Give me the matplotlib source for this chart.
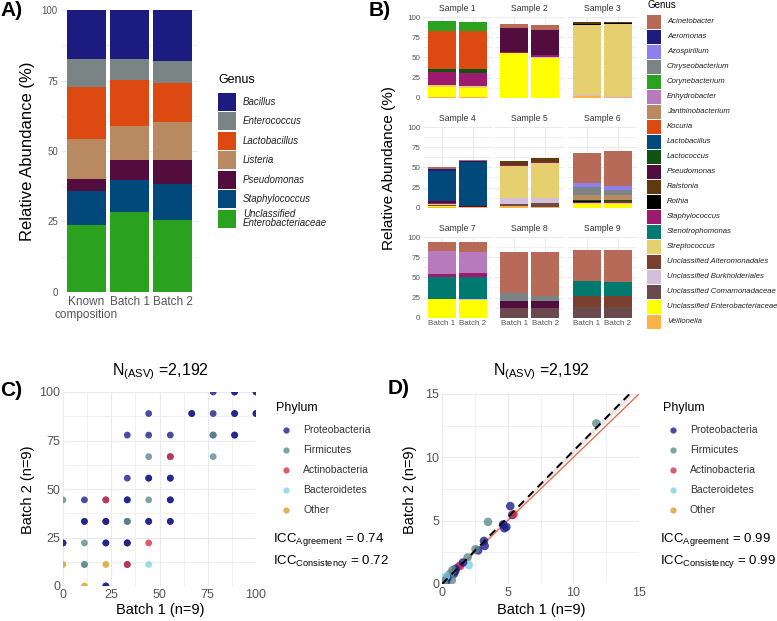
"""
Mock community and sample composition across sequencing batches.
Four panels: genus stacks (A, B) and prevalence / abundance agreement (C, D).
"""

import numpy as np
import matplotlib.pyplot as plt
from matplotlib.patches import Rectangle
from matplotlib.ticker import MultipleLocator

plt.rcParams['font.family'] = ['Liberation Sans', 'DejaVu Sans']
plt.rcParams['mathtext.default'] = 'regular'

W, H = 777, 621
GRID = "#ece9ee"
TICK = "#555555"

# ---------------- Panel A: mock community ----------------
a_groups = ["Known\ncomposition", "Batch 1", "Batch 2"]
a_genera = ["Bacillus", "Enterococcus", "Lactobacillus", "Listeria",
            "Pseudomonas", "Staphylococcus", "Unclassified\nEnterobacteriaceae"]
a_colors = ["#1c1c80", "#7a8484", "#dc4a12", "#b98a62",
            "#520c3e", "#00497a", "#2ba21f"]
a_bacillus = [17.4, 17.4, 17.9]
a_enterococcus = [10.0, 7.4, 8.0]
a_lactobacillus = [18.3, 16.3, 13.7]
a_listeria = [14.3, 12.1, 13.6]
a_pseudomonas = [4.2, 7.1, 8.6]
a_staphylococcus = [12.2, 11.3, 12.8]
a_enterobacteriaceae = [23.6, 28.4, 25.4]
a_values = [a_bacillus, a_enterococcus, a_lactobacillus, a_listeria,
            a_pseudomonas, a_staphylococcus, a_enterobacteriaceae]

# ---------------- Panel B: nine samples, two batches ----------------
b_genera = ["Acinetobacter", "Aeromonas", "Azospirillum", "Chryseobacterium",
            "Corynebacterium", "Enhydrobacter", "Janthinobacterium", "Kocuria",
            "Lactobacillus", "Lactococcus", "Pseudomonas", "Ralstonia", "Rothia",
            "Staphylococcus", "Stenotrophomonas", "Streptococcus",
            "Unclassified Alteromonadales", "Unclassified Burkholderiales",
            "Unclassified Comamonadaceae", "Unclassified Enterobacteriaceae",
            "Veillonella"]
b_colors = ["#b86a58", "#1c1c80", "#8f80f2", "#7a8484", "#2ba21f", "#b77bbd",
            "#b98a62", "#dc4a12", "#00497a", "#10520f", "#520c3e", "#5e3a0d",
            "#000000", "#9e1a6e", "#007a6e", "#e5cf6e", "#7b3f30", "#d3c0d8",
            "#6a4a4c", "#ffff00", "#ffb347"]
b_batches = ["Batch 1", "Batch 2"]

sample1 = {"Veillonella": [1.2, 1.0], "Unclassified Enterobacteriaceae": [11.7, 10.6],
           "Streptococcus": [2.9, 2.9], "Staphylococcus": [16.6, 16.6],
           "Lactococcus": [3.3, 4.2], "Kocuria": [47.3, 46.9],
           "Corynebacterium": [11.6, 11.2]}
sample2 = {"Unclassified Enterobacteriaceae": [55.0, 49.0],
           "Unclassified Burkholderiales": [0.5, 1.0], "Staphylococcus": [1.5, 3.0],
           "Pseudomonas": [29.3, 30.4], "Acinetobacter": [5.0, 6.6]}
sample3 = {"Veillonella": [2.0, 0.3], "Unclassified Burkholderiales": [1.5, 1.3],
           "Streptococcus": [86.5, 89.4], "Rothia": [1.5, 1.5], "Ralstonia": [1.9, 1.5]}
sample4 = {"Veillonella": [0.5, 0.3], "Unclassified Enterobacteriaceae": [1.5, 0.6],
           "Unclassified Comamonadaceae": [1.5, 0.3], "Streptococcus": [1.5, 0.0],
           "Staphylococcus": [1.0, 0.0], "Pseudomonas": [2.5, 0.5],
           "Lactobacillus": [37.5, 55.2], "Aeromonas": [2.0, 0.5],
           "Acinetobacter": [3.0, 1.8]}
sample5 = {"Veillonella": [1.5, 1.0], "Unclassified Comamonadaceae": [3.5, 4.5],
           "Unclassified Burkholderiales": [7.5, 6.0], "Streptococcus": [39.5, 43.5],
           "Staphylococcus": [1.0, 1.2], "Ralstonia": [5.0, 5.0]}
sample6 = {"Unclassified Enterobacteriaceae": [4.9, 5.0], "Streptococcus": [1.5, 1.0],
           "Staphylococcus": [0.8, 0.8], "Rothia": [1.0, 0.8], "Ralstonia": [0.6, 0.6],
           "Lactococcus": [0.8, 0.8], "Kocuria": [0.4, 0.0],
           "Janthinobacterium": [6.0, 6.6], "Chryseobacterium": [9.5, 6.6],
           "Azospirillum": [5.0, 4.1], "Acinetobacter": [37.0, 43.7]}
sample7 = {"Unclassified Enterobacteriaceae": [22.8, 22.0],
           "Unclassified Burkholderiales": [0.9, 1.0], "Stenotrophomonas": [27.3, 28.0],
           "Staphylococcus": [3.4, 4.2], "Enhydrobacter": [27.8, 25.8],
           "Acinetobacter": [11.6, 12.8]}
sample8 = {"Unclassified Comamonadaceae": [11.6, 11.6], "Pseudomonas": [9.6, 9.6],
           "Chryseobacterium": [9.1, 6.2], "Acinetobacter": [51.0, 53.9]}
sample9 = {"Unclassified Comamonadaceae": [12.8, 12.8],
           "Unclassified Alteromonadales": [14.4, 14.4],
           "Stenotrophomonas": [18.5, 17.2], "Acinetobacter": [37.8, 39.1]}
samples = [sample1, sample2, sample3, sample4, sample5,
           sample6, sample7, sample8, sample9]

# ---------------- Panels C / D: ASV agreement ----------------
phyla = ["Proteobacteria", "Firmicutes", "Actinobacteria", "Bacteroidetes", "Other"]
phylum_colors = {"Proteobacteria": "#1b1f8a", "Firmicutes": "#5f8c8c",
                 "Actinobacteria": "#d83147", "Bacteroidetes": "#81d4dc",
                 "Other": "#db9d2a"}

# prevalence (% of the 9 samples) in each batch
c_batch1 = [77.8, 88.9, 88.9, 100, 100,
            44.4, 66.7, 66.7, 77.8, 88.9, 88.9, 100, 100,
            33.3, 44.4, 55.6, 77.8, 77.8, 88.9, 88.9,
            44.4, 55.6, 55.6, 77.8,
            33.3, 44.4, 44.4, 55.6, 55.6,
            0, 11.1, 22.2, 22.2, 33.3, 33.3, 44.4, 55.6, 55.6,
            11.1, 11.1, 22.2, 22.2, 22.2, 33.3, 33.3, 44.4, 44.4, 55.6, 55.6,
            0, 0, 11.1, 22.2, 22.2, 33.3, 33.3, 33.3, 44.4,
            0, 11.1, 11.1, 22.2, 33.3, 33.3, 44.4,
            11.1, 22.2, 22.2]
c_batch2 = [100, 100, 100, 100, 100,
            88.9, 88.9, 88.9, 88.9, 88.9, 88.9, 88.9, 88.9,
            77.8, 77.8, 77.8, 77.8, 77.8, 77.8, 77.8,
            66.7, 66.7, 66.7, 66.7,
            55.6, 55.6, 55.6, 55.6, 55.6,
            44.4, 44.4, 44.4, 44.4, 44.4, 44.4, 44.4, 44.4, 44.4,
            33.3, 33.3, 33.3, 33.3, 33.3, 33.3, 33.3, 33.3, 33.3, 33.3, 33.3,
            22.2, 22.2, 22.2, 22.2, 22.2, 22.2, 22.2, 22.2, 22.2,
            11.1, 11.1, 11.1, 11.1, 11.1, 11.1, 11.1,
            0, 0, 0]
c_phylum = ["Proteobacteria", "Proteobacteria", "Proteobacteria", "Actinobacteria", "Proteobacteria",
            "Proteobacteria", "Proteobacteria", "Proteobacteria", "Proteobacteria",
            "Proteobacteria", "Proteobacteria", "Proteobacteria", "Proteobacteria",
            "Proteobacteria", "Proteobacteria", "Proteobacteria", "Proteobacteria",
            "Firmicutes", "Proteobacteria", "Proteobacteria",
            "Firmicutes", "Proteobacteria", "Actinobacteria", "Firmicutes",
            "Proteobacteria", "Proteobacteria", "Proteobacteria", "Proteobacteria", "Proteobacteria",
            "Firmicutes", "Proteobacteria", "Proteobacteria", "Actinobacteria",
            "Proteobacteria", "Proteobacteria", "Firmicutes", "Proteobacteria", "Proteobacteria",
            "Proteobacteria", "Proteobacteria", "Actinobacteria", "Proteobacteria",
            "Proteobacteria", "Proteobacteria", "Firmicutes", "Proteobacteria",
            "Proteobacteria", "Proteobacteria", "Proteobacteria",
            "Proteobacteria", "Proteobacteria", "Firmicutes", "Proteobacteria",
            "Proteobacteria", "Actinobacteria", "Proteobacteria", "Proteobacteria",
            "Actinobacteria",
            "Other", "Firmicutes", "Firmicutes", "Other", "Proteobacteria",
            "Actinobacteria", "Bacteroidetes",
            "Other", "Proteobacteria", "Proteobacteria"]

# mean relative abundance (%) in each batch
d_batch1 = [11.75, 5.2, 5.35, 5.45, 4.65, 4.75, 4.9, 3.5, 3.2, 3.25, 2.75, 2.55,
            1.95, 2.05, 1.3, 1.4, 1.6, 1.0, 0.9, 1.05, 0.8, 0.6, 0.75, 0.5,
            0.3, 0.2, 0.4, 0.1, 0.1, 0.3, 0.15]
d_batch2 = [12.68, 6.15, 5.45, 5.5, 4.7, 4.4, 4.5, 4.9, 3.4, 3.0, 2.65, 2.75,
            2.1, 1.5, 1.4, 1.45, 1.7, 1.0, 0.8, 1.2, 1.1, 0.8, 0.3, 0.5,
            0.2, 0.3, 0.5, 0.1, 0.05, 0.6, 0.2]
d_phylum = ["Firmicutes", "Proteobacteria", "Proteobacteria", "Actinobacteria",
            "Proteobacteria", "Proteobacteria", "Proteobacteria", "Firmicutes",
            "Proteobacteria", "Proteobacteria", "Proteobacteria", "Firmicutes",
            "Firmicutes", "Bacteroidetes", "Actinobacteria", "Actinobacteria",
            "Proteobacteria", "Proteobacteria", "Proteobacteria", "Proteobacteria",
            "Firmicutes", "Firmicutes", "Firmicutes", "Firmicutes",
            "Proteobacteria", "Proteobacteria", "Proteobacteria", "Proteobacteria",
            "Other", "Bacteroidetes", "Firmicutes"]
d_fit_slope = 1.05
icc_c = [0.74, 0.72]
icc_d = [0.99, 0.99]
n_asv = "2,192"

fig = plt.figure(figsize=(W / 100, H / 100), dpi=100)


def box(x0, y0, x1, y1):
    # pixel box (top-left origin) -> figure fraction
    return [x0 / W, 1 - y1 / H, (x1 - x0) / W, (y1 - y0) / H]


def style(ax, fs):
    for s in ax.spines.values():
        s.set_visible(False)
    ax.tick_params(which='both', length=0, labelsize=fs, labelcolor=TICK, pad=2)
    ax.grid(True, which='major', color=GRID, lw=0.8)
    ax.grid(True, which='minor', color=GRID, lw=0.5)
    ax.set_axisbelow(True)


# ---- Panel A
axA = fig.add_axes(box(60.7, 10.3, 198.3, 291.7))
xa = np.arange(len(a_groups))
bottom = np.zeros(len(a_groups))
for vals, col in reversed(list(zip(a_values, a_colors))):
    axA.bar(xa, vals, 0.9, bottom=bottom, color=col, linewidth=0)
    bottom += np.array(vals)
axA.set_xlim(-0.6, 2.6)
axA.set_ylim(0, 100)
axA.set_xticks(xa)
# first line as tick label, any second line drawn below it
axA.set_xticklabels([g.split("\n")[0] for g in a_groups])
axA.set_yticks([0, 25, 50, 75, 100])
axA.yaxis.set_minor_locator(MultipleLocator(12.5))
style(axA, 7)
axA.tick_params(axis='x', labelsize=8.5, pad=3)

# ---- Panel B
col_x = [(423.4, 491.6), (495.4, 564.0), (568.4, 636.6)]
row_y = [(17.0, 97.7), (127.0, 207.7), (237.0, 317.7)]
xb = np.arange(len(b_batches))
for i, smp in enumerate(samples):
    r, c = divmod(i, 3)
    ax = fig.add_axes(box(col_x[c][0], row_y[r][0], col_x[c][1], row_y[r][1]))
    bottom = np.zeros(2)
    for g, col in reversed(list(zip(b_genera, b_colors))):
        if g in smp:
            ax.bar(xb, smp[g], 0.9, bottom=bottom, color=col, linewidth=0)
            bottom += np.array(smp[g])
    ax.set_xlim(-0.6, 1.6)
    ax.set_ylim(0, 100)
    ax.set_xticks(xb)
    ax.set_xticklabels(b_batches if r == 2 else [])
    ax.set_yticks([0, 25, 50, 75, 100])
    if c != 0:
        ax.set_yticklabels([])
    ax.yaxis.set_minor_locator(MultipleLocator(12.5))
    style(ax, 5.8)
    ax.set_title(f"Sample {i + 1}", fontsize=6.2, color="#333333", pad=4)

# ---- Panel C
axC = fig.add_axes(box(63, 392, 256, 586))
axC.scatter(c_batch1, c_batch2, s=24, c=[phylum_colors[p] for p in c_phylum],
            alpha=0.8, linewidths=0, zorder=3)
axC.set_xlim(0, 100)
axC.set_ylim(0, 100)
axC.set_xticks([0, 25, 50, 75, 100])
axC.set_yticks([0, 25, 50, 75, 100])
axC.xaxis.set_minor_locator(MultipleLocator(12.5))
axC.yaxis.set_minor_locator(MultipleLocator(12.5))
style(axC, 9)

# ---- Panel D
axD = fig.add_axes(box(442, 394, 639, 584))
lim = np.array([0, 15])
axD.plot(lim, lim, color="#ef6a50", lw=1.0, zorder=2)
axD.fill_between(lim, lim * (d_fit_slope - 0.02), lim * (d_fit_slope + 0.02),
                 color="#d8d8d8", alpha=0.6, lw=0, zorder=1)
axD.plot(lim, lim * d_fit_slope, color="black", lw=1.4, ls=(0, (4, 3)), zorder=4)
axD.scatter(d_batch1, d_batch2, s=38, c=[phylum_colors[p] for p in d_phylum],
            alpha=0.8, linewidths=0, zorder=3)
axD.set_xlim(0, 15)
axD.set_ylim(0, 15)
axD.set_xticks([0, 5, 10, 15])
axD.set_yticks([0, 5, 10, 15])
axD.xaxis.set_minor_locator(MultipleLocator(2.5))
axD.yaxis.set_minor_locator(MultipleLocator(2.5))
style(axD, 9)

# ---- overlay for labels and legends (pixel coordinates)
ov = fig.add_axes([0, 0, 1, 1])
ov.set_xlim(0, W)
ov.set_ylim(H, 0)
ov.axis('off')

for lab, x, y in [("A)", 0, 11), ("B)", 369, 11), ("C)", 0, 390), ("D)", 388, 388)]:
    ov.text(x, y, lab, fontsize=15, fontweight='bold', va='center', ha='left')

# second line of the "Known composition" tick label
for j, g in enumerate(a_groups):
    if "\n" in g:
        xpix = 60.7 + (j + 0.6) / 3.2 * (198.3 - 60.7)
        ov.text(xpix, 315, g.split("\n")[1], fontsize=8.5, color=TICK,
                ha='center', va='center')

ov.text(28, 151, "Relative Abundance (%)", rotation=90, fontsize=12,
        ha='center', va='center')
ov.text(389, 168, "Relative Abundance (%)", rotation=90, fontsize=11,
        ha='center', va='center')

# legend A
ov.text(218, 80, "Genus", fontsize=9, va='center', ha='left')
for i, (g, col) in enumerate(zip(a_genera, a_colors)):
    yc = 101.7 + 19.5 * i
    ov.add_patch(Rectangle((218, yc - 9), 18, 18, color=col, lw=0))
    ov.text(243, yc, g, fontsize=7, style='italic', va='center', ha='left',
            color="#222222", linespacing=0.95)

# legend B
ov.text(647, 5, "Genus", fontsize=7, va='center', ha='left')
for i, (g, col) in enumerate(zip(b_genera, b_colors)):
    yc = 21.7 + 15 * i
    ov.add_patch(Rectangle((647, yc - 7), 14, 14, color=col, lw=0))
    ov.text(667, yc, g, fontsize=5.6, style='italic', va='center', ha='left',
            color="#222222")

# C / D titles, axis labels, legends, ICC
for cx, x_leg, icc, lx, ly in [(160, 276, icc_c, 28, 490), (541, 663, icc_d, 410, 490)]:
    ov.text(cx, 372, "N$_{(ASV)}$ =" + n_asv, fontsize=11.5, ha='center', va='center')
    ov.text(cx, 610, "Batch 1 (n=9)", fontsize=10.5, ha='center', va='center')
    ov.text(lx, ly, "Batch 2 (n=9)", fontsize=10.5, rotation=90,
            ha='center', va='center')
    ov.text(x_leg, 408, "Phylum", fontsize=9, ha='left', va='center')
    for i, p in enumerate(phyla):
        yc = 430 + 20 * i
        ov.plot(x_leg + 10, yc, 'o', ms=4.5, color=phylum_colors[p], alpha=0.8,
                mew=0)
        ov.text(x_leg + 27, yc, p, fontsize=7.5, ha='left', va='center',
                color="#333333")
    ov.text(x_leg - 3, 540, "ICC$_{Agreement}$ = %.2f" % icc[0], fontsize=9.5,
            ha='left', va='center')
    ov.text(x_leg - 3, 562, "ICC$_{Consistency}$ = %.2f" % icc[1], fontsize=9.5,
            ha='left', va='center')

fig.savefig("out.png", dpi=100)
